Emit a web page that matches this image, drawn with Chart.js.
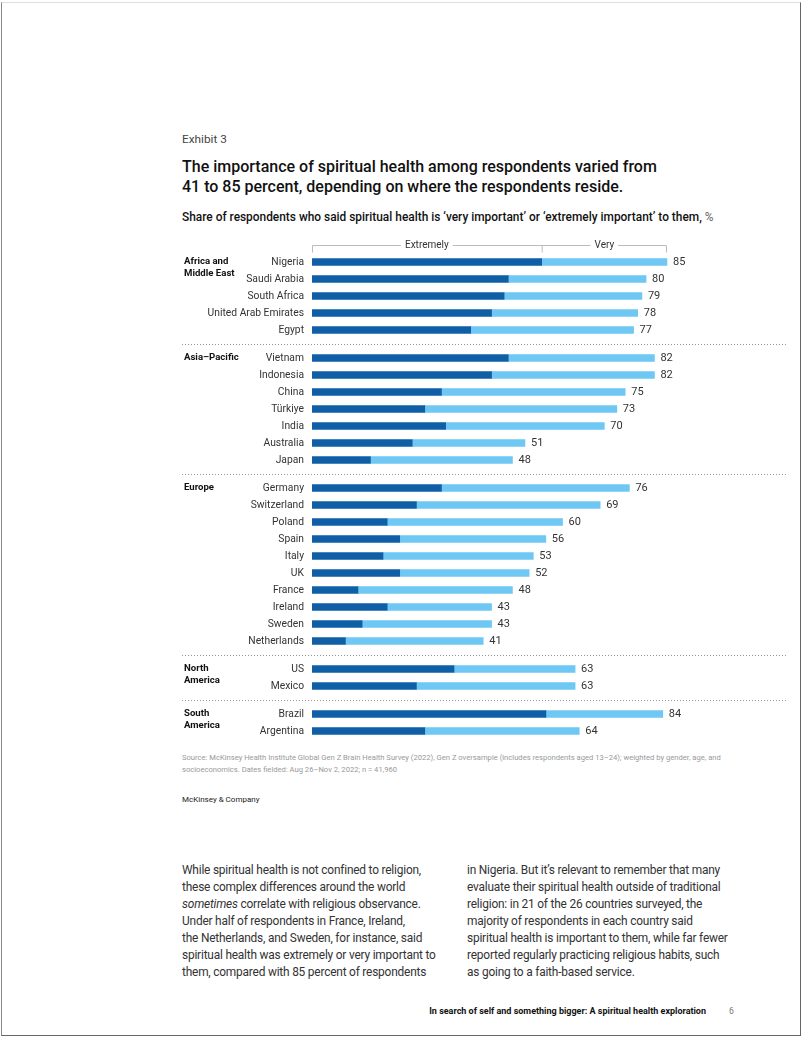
<!DOCTYPE html>
<html>
<head>
<meta charset="utf-8">
<script src="https://cdn.jsdelivr.net/npm/chart.js@4.4.0/dist/chart.umd.min.js"></script>
<style>
  html, body { margin:0; padding:0; background:#fff; }
  body { width:802px; height:1037px; position:relative; overflow:hidden; font-family:Roboto, "Liberation Sans", Arial, sans-serif; color:#222; }
  .frame { position:absolute; left:1px; top:2px; width:798px; height:1032px; border-left:1px solid #888; border-top:1px solid #ddd; border-right:1px solid #666; border-bottom:1px solid #666; }
  .t { position:absolute; white-space:nowrap; }
  #exh { left:182px; top:131px; font-size:11.8px; line-height:16px; color:#444; }
  #title { left:182px; top:156.5px; font-size:16px; line-height:20px; font-weight:500; color:#111; }
  #sub { left:182px; top:209px; font-size:11.9px; line-height:16px; font-weight:500; color:#111; }
  #sub span { font-weight:400; color:#666; }
  #src { left:182px; top:752px; font-size:7.62px; line-height:11.5px; color:#999; }
  #mck { left:182px; top:794px; font-size:8px; line-height:12px; color:#222; }
  .body { position:absolute; top:861.5px; font-size:11.9px; line-height:17px; color:#333; white-space:nowrap; letter-spacing:-0.2px; }
  #b1 { left:182px; }
  #b2 { left:467px; }
  #foot { right:96px; top:1005px; font-size:9px; line-height:12px; font-weight:700; color:#111; }
  #pg { left:729px; top:1005px; font-size:8.6px; line-height:12px; color:#777; }
  #wrap { position:absolute; left:0; top:230px; width:802px; height:520px; }
</style>
</head>
<body>
<div class="frame"></div>
<div class="t" id="exh">Exhibit 3</div>
<div class="t" id="title">The importance of spiritual health among respondents varied from<br>41 to 85 percent, depending on where the respondents reside.</div>
<div class="t" id="sub">Share of respondents who said spiritual health is ‘very important’ or ‘extremely important’ to them, <span>%</span></div>
<div id="wrap"><canvas id="c" width="802" height="520"></canvas></div>
<div class="t" id="src">Source: McKinsey Health Institute Global Gen Z Brain Health Survey (2022), Gen Z oversample (includes respondents aged 13–24); weighted by gender, age, and<br>socioeconomics. Dates fielded: Aug 26–Nov 2, 2022; n = 41,960</div>
<div class="t" id="mck">McKinsey &amp; Company</div>
<div class="body" id="b1">While spiritual health is not confined to religion,<br>these complex differences around the world<br><i>sometimes</i> correlate with religious observance.<br>Under half of respondents in France, Ireland,<br>the Netherlands, and Sweden, for instance, said<br>spiritual health was extremely or very important to<br>them, compared with 85 percent of respondents</div>
<div class="body" id="b2">in Nigeria. But it’s relevant to remember that many<br>evaluate their spiritual health outside of traditional<br>religion: in 21 of the 26 countries surveyed, the<br>majority of respondents in each country said<br>spiritual health is important to them, while far fewer<br>reported regularly practicing religious habits, such<br>as going to a faith-based service.</div>
<div class="t" id="foot">In search of self and something bigger: A spiritual health exploration</div>
<div class="t" id="pg">6</div>
<script>
const groups = ["Africa and\nMiddle East", "Asia–Pacific", "Europe", "North\nAmerica", "South\nAmerica"];
const countries = ["Nigeria","Saudi Arabia","South Africa","United Arab Emirates","Egypt",
  "Vietnam","Indonesia","China","Türkiye","India","Australia","Japan",
  "Germany","Switzerland","Poland","Spain","Italy","UK","France","Ireland","Sweden","Netherlands",
  "US","Mexico","Brazil","Argentina"];
const groupOf = [0,0,0,0,0, 1,1,1,1,1,1,1, 2,2,2,2,2,2,2,2,2,2, 3,3, 4,4];
const extremely = [55,47,46,43,38, 47,43,31,27,32,24,14, 31,25,18,21,17,21,11,18,12,8, 34,25, 56,27];
const very      = [30,33,33,35,39, 35,39,44,46,38,27,34, 45,44,42,35,36,31,37,25,31,33, 29,38, 28,37];
const totals    = [85,80,79,78,77, 82,82,75,73,70,51,48, 76,69,60,56,53,52,48,43,43,41, 63,63, 84,64];
const seriesNames = ["Extremely", "Very"];

const GAP = 11/17;
const pos = countries.map((c,i) => i + groupOf[i]*GAP);

const DARK = "#0f5fa6", LIGHT = "#6fc7f4";
const FONT = "Roboto, 'Liberation Sans', Arial, sans-serif";

const deco = {
  id: "deco",
  afterDatasetsDraw(chart) {
    const ctx = chart.ctx, xs = chart.scales.x, ys = chart.scales.y;
    ctx.save();
    ctx.font = "11px " + FONT;
    ctx.fillStyle = "#333";
    ctx.textBaseline = "middle";
    ctx.textAlign = "left";
    const meta = chart.getDatasetMeta(1);
    meta.data.forEach((el, i) => {
      ctx.fillText(String(totals[i]), el.x + 6, el.y + 0.5);
    });
    ctx.font = "bold 9.6px " + FONT;
    ctx.fillStyle = "#111";
    groups.forEach((g, gi) => {
      const first = groupOf.indexOf(gi);
      const y0 = ys.getPixelForValue(pos[first]);
      g.split("\n").forEach((line, li) => ctx.fillText(line, 184, y0 + li * 11.3));
    });
    ctx.strokeStyle = "#999";
    ctx.lineWidth = 1;
    ctx.setLineDash([1, 2]);
    for (let gi = 1; gi < groups.length; gi++) {
      const first = groupOf.indexOf(gi);
      const y = Math.round((ys.getPixelForValue(pos[first - 1]) + ys.getPixelForValue(pos[first])) / 2) + 0.5;
      ctx.beginPath(); ctx.moveTo(182, y); ctx.lineTo(786, y); ctx.stroke();
    }
    ctx.setLineDash([]);
    const x0 = xs.getPixelForValue(0), x1 = xs.getPixelForValue(extremely[0]), x2 = xs.getPixelForValue(totals[0]);
    const ly = Math.round(ys.getPixelForValue(pos[0]) - 17) + 0.5;
    ctx.strokeStyle = "#bbb";
    ctx.beginPath();
    ctx.moveTo(x0 + 0.5, ly + 7); ctx.lineTo(x0 + 0.5, ly); ctx.lineTo(x2 - 0.5, ly); ctx.lineTo(x2 - 0.5, ly + 7);
    ctx.moveTo(x1 + 0.5, ly); ctx.lineTo(x1 + 0.5, ly + 7);
    ctx.stroke();
    ctx.font = "10px " + FONT;
    ctx.textAlign = "center";
    [[x0, x1, seriesNames[0]], [x1, x2, seriesNames[1]]].forEach(([a, b, txt]) => {
      const cx = (a + b) / 2;
      const w = ctx.measureText(txt).width + 8;
      ctx.fillStyle = "#fff";
      ctx.fillRect(cx - w / 2, ly - 6, w, 12);
      ctx.fillStyle = "#333";
      ctx.fillText(txt, cx, ly);
    });
    ctx.restore();
  }
};

new Chart(document.getElementById("c"), {
  type: "bar",
  data: {
    datasets: [
      { label: seriesNames[0], data: countries.map((c,i) => ({x: extremely[i], y: pos[i]})), backgroundColor: DARK, barThickness: 7, borderWidth: 0 },
      { label: seriesNames[1], data: countries.map((c,i) => ({x: very[i], y: pos[i]})), backgroundColor: LIGHT, barThickness: 7, borderWidth: 0 }
    ]
  },
  options: {
    indexAxis: "y",
    responsive: false,
    animation: false,
    events: [],
    layout: { padding: { left: 0, right: 72.4, top: 6.5, bottom: 3.5 } },
    plugins: { legend: { display: false }, tooltip: { enabled: false } },
    scales: {
      x: { type: "linear", stacked: true, min: 0, max: 100, display: false },
      y: {
        type: "linear", stacked: true, reverse: true, min: -1.5, max: 28.5, offset: false,
        grid: { display: false, offset: false }, border: { display: false },
        afterBuildTicks: (scale) => { scale.ticks = pos.map(v => ({ value: v })); },
        afterFit: (scale) => { scale.width = 312; scale.paddingTop = 0; scale.paddingBottom = 0; },
        ticks: {
          autoSkip: false, padding: 0, color: "#333",
          font: { family: FONT, size: 10.3 },
          callback: (value) => { const i = pos.findIndex(p => Math.abs(p - value) < 1e-6); return i >= 0 ? countries[i] : ""; }
        }
      }
    }
  },
  plugins: [deco]
});
</script>
</body>
</html>
